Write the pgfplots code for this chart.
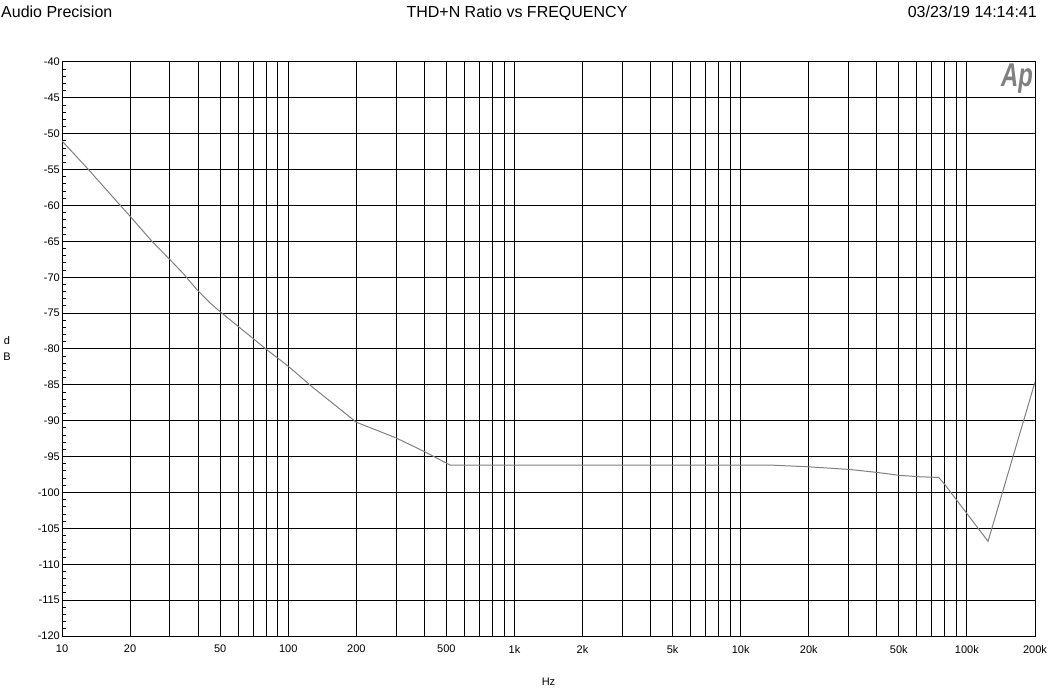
\documentclass[border=0pt]{standalone}
\usepackage{fontspec}
\setmainfont{Liberation Sans}
\usepackage{pgfplots}
\pgfplotsset{compat=1.18}
\begin{document}
\begin{tikzpicture}
\useasboundingbox (0,0) rectangle (1053pt,689pt);
\node[anchor=base west, inner sep=0pt, font=\fontsize{16}{19}\selectfont] at (1pt,671pt) {Audio Precision};
\node[anchor=base, inner sep=0pt, font=\fontsize{16}{19}\selectfont] at (517pt,671pt) {THD+N Ratio vs FREQUENCY};
\node[anchor=base east, inner sep=0pt, font=\fontsize{16}{19}\selectfont] at (1037pt,671pt) {03/23/19 14:14:41};
\begin{axis}[
  at={(62pt,53pt)}, anchor=south west,
  width=973pt, height=574pt, scale only axis,
  xmode=log, log basis x=10,
  xmin=10, xmax=200000, ymin=-120, ymax=-40,
  xtick={10,20,50,100,200,500,1000,2000,5000,10000,20000,50000,100000,200000},
  xticklabels={10,20,50,100,200,500,1k,2k,5k,10k,20k,50k,100k,200k},
  minor xtick={30,40,60,70,80,90,300,400,600,700,800,900,3000,4000,6000,7000,8000,9000,30000,40000,60000,70000,80000,90000},
  ytick={-120,-115,...,-40},
  yticklabels={-120,-115,-110,-105,-100,-95,-90,-85,-80,-75,-70,-65,-60,-55,-50,-45,-40},
  minor y tick num=4,
  ytick pos=left,
  tick align=inside,
  major tick length=0pt,
  minor tick length=4pt,
  xmajorgrids, xminorgrids, ymajorgrids,
  major grid style={black, line width=1pt},
  minor grid style={black, line width=1pt},
  minor tick style={black, line width=1pt},
  axis line style={black, line width=1pt},
  ticklabel style={font=\fontsize{11}{13}\selectfont},
  yticklabel style={inner sep=0pt, xshift=-2pt},
  xticklabel style={inner sep=0pt, yshift=-9pt},
  xlabel={Hz},
  xlabel style={at={(axis description cs:0.5,0)}, anchor=center, yshift=-46pt, font=\fontsize{11}{13}\selectfont, inner sep=0pt},
  ylabel={d\\B},
  ylabel style={rotate=-90, align=center, at={(axis description cs:0,0.5)}, anchor=center, xshift=-55pt, font=\fontsize{11}{16}\selectfont, inner sep=0pt},
  clip=true,
]
\addplot[color=gray, line width=1pt, mark=none] coordinates {
(10,-51.0) (13.1,-55.0) (18,-59.9) (20,-61.5) (25,-65.0) (29.5,-67.3)
(34.4,-69.5) (39.4,-71.7) (45.2,-73.6) (50,-74.8) (79,-79.9) (100,-82.4)
(129,-85.4) (200,-90.2) (300,-92.4) (400,-94.3) (521,-96.2) (1000,-96.2)
(10000,-96.2) (14000,-96.2) (19400,-96.4) (24500,-96.6) (30500,-96.8)
(40000,-97.2) (50000,-97.6) (61000,-97.8) (75000,-97.9) (79000,-98.7)
(124000,-106.8) (200000,-84.6)
};
\node[anchor=north east, inner sep=0pt, text=gray, font=\fontsize{33}{36}\selectfont\bfseries\itshape] at (axis description cs:0.998,0.998) {\scalebox{0.72}[1]{Ap}};
\end{axis}
\end{tikzpicture}
\end{document}
